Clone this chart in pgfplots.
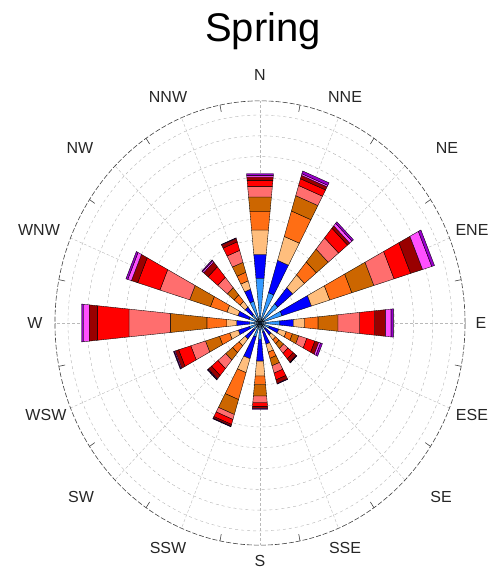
\documentclass[border=0pt]{standalone}
\usepackage{pgfplots}
\usepackage{pgfplotstable}
\pgfplotsset{compat=1.18}
\usepackage{fontspec}
\setmainfont{Liberation Sans}

\definecolor{c1}{RGB}{51,153,255}
\definecolor{c2}{RGB}{0,0,255}
\definecolor{c3}{RGB}{255,190,125}
\definecolor{c4}{RGB}{255,110,20}
\definecolor{c5}{RGB}{204,102,0}
\definecolor{c6}{RGB}{255,110,110}
\definecolor{c7}{RGB}{255,0,0}
\definecolor{c8}{RGB}{153,0,0}
\definecolor{c9}{RGB}{255,80,255}
\definecolor{c10}{RGB}{153,0,204}

% compass direction (deg) and cumulative radii of the 10 speed classes
\pgfplotstableread{
ang   r1   r2   r3   r4   r5   r6   r7   r8   r9   r10
0     2.16 3.32 4.49 5.40 6.09 6.60 6.89 7.05 7.13 7.21
22.5  1.53 3.15 4.35 5.63 6.40 6.91 7.25 7.42 7.50 7.64
45    1.20 2.20 3.00 3.80 4.60 5.30 5.90 6.05 6.20 6.30
67.5  1.20 2.80 3.80 5.00 6.20 7.30 8.20 8.85 9.35 9.50
90    1.04 1.74 2.34 3.04 4.08 5.21 5.99 6.56 6.86 6.98
112.5 0.51 1.02 1.43 1.77 2.11 2.55 2.99 3.20 3.30 3.40
135   0.37 0.75 1.05 1.29 1.59 1.89 2.24 2.44 2.47 2.49
157.5 0.46 1.07 1.47 1.78 2.15 2.52 2.86 3.04 3.06 3.07
180   0.80 1.84 2.56 2.96 3.53 3.85 4.04 4.13 4.15 4.17
202.5 0.70 1.80 2.50 3.85 4.60 4.85 5.10 5.18 5.20 5.22
225   0.43 1.00 1.42 1.85 2.31 2.84 3.27 3.48 3.52 3.55
247.5 0.57 1.18 1.65 2.21 2.97 3.77 4.43 4.62 4.67 4.71
270   0.55 1.22 1.74 2.78 4.69 6.86 8.51 8.94 9.24 9.34
292.5 0.60 1.20 1.80 2.70 3.83 5.45 6.66 7.00 7.20 7.30
315   0.55 1.00 1.35 1.75 2.20 2.85 3.50 3.80 3.88 3.93
337.5 1.10 1.70 2.12 2.55 3.05 3.65 4.08 4.25 4.27 4.28
}\wind

\begin{document}
\begin{tikzpicture}
\begin{axis}[
  scale only axis, width=494pt, height=572pt,
  xmin=-13.5417, xmax=12.1875, ymin=-11.9712, ymax=15.5288,
  hide axis, clip=false,
  bar seg/.style={draw=black, line width=0.35pt, line join=round},
]
% canvas extent
\path (axis cs:-13.5417,-11.9712) rectangle (axis cs:12.1875,15.5288);
% grid rings
\pgfplotsinvokeforeach{1,...,10}{
  \draw[gray!60, dashed, line width=0.4pt] (axis cs:0,0) ellipse [x radius=#1, y radius=#1];
}
% spokes
\pgfplotsinvokeforeach{0,22.5,...,337.5}{
  \draw[gray!55, densely dashed, line width=0.4pt] (axis cs:0,0) -- (axis cs:{10.68*cos(#1)},{10.68*sin(#1)});
}
% frame
\draw[black!75, dash pattern=on 5pt off 2pt, line width=0.6pt] (axis cs:0,0) ellipse [x radius=10.68, y radius=10.68];
\pgfplotsinvokeforeach{11.25,33.75,...,348.75}{
  \draw[black!75, line width=0.6pt] (axis cs:{10.68*cos(#1)},{10.68*sin(#1)}) -- (axis cs:{10.35*cos(#1)},{10.35*sin(#1)});
}
% bars
\pgfplotsforeachungrouped \i in {0,...,15}{
  \pgfplotstablegetelem{\i}{ang}\of\wind
  \let\ang\pgfplotsretval
  \pgfmathsetmacro\aL{90-\ang-5.6}
  \pgfmathsetmacro\aR{90-\ang+5.6}
  \def\rA{0}
  \pgfplotsforeachungrouped \j in {1,...,10}{
    \pgfplotstablegetelem{\i}{r\j}\of\wind
    \let\rB\pgfplotsretval
    \edef\cmd{\noexpand\addplot[bar seg, fill=c\j, data cs=polar] coordinates {(\aL,\rA) (\aR,\rA) (\aR,\rB) (\aL,\rB) (\aL,\rA)};}
    \cmd
    \let\rA\rB
  }
}
% labels
\begin{scope}[every node/.style={font=\fontsize{16}{18}\selectfont, inner sep=0pt, text=black!85}]
\node at (axis cs:0,11.92) {N};
\node at (axis cs:4.43,10.87) {NNE};
\node at (axis cs:9.74,8.41) {NE};
\node at (axis cs:11.04,4.47) {ENE};
\node at (axis cs:11.51,0) {E};
\node at (axis cs:11.04,-4.42) {ESE};
\node at (axis cs:9.43,-8.37) {SE};
\node at (axis cs:4.43,-10.82) {SSE};
\node at (axis cs:0,-11.45) {S};
\node at (axis cs:-4.79,-10.82) {SSW};
\node at (axis cs:-9.32,-8.37) {SW};
\node at (axis cs:-11.15,-4.42) {WSW};
\node at (axis cs:-11.72,0) {W};
\node at (axis cs:-11.51,4.47) {WNW};
\node at (axis cs:-9.38,8.41) {NW};
\node at (axis cs:-4.79,10.87) {NNW};
\end{scope}
\node[anchor=base, font=\fontsize{40}{44}\selectfont, inner sep=0pt] at (axis cs:0.16,13.51) {Spring};
\end{axis}
\end{tikzpicture}
\end{document}
